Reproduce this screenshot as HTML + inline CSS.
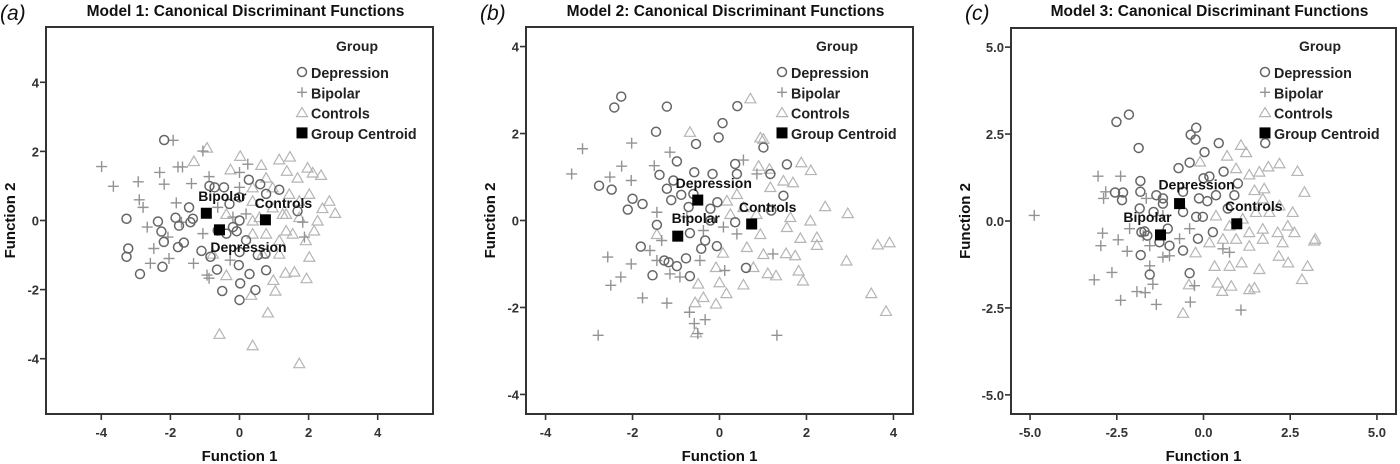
<!DOCTYPE html>
<html><head><meta charset="utf-8"><style>
html,body{margin:0;padding:0;background:#fff;}
svg{display:block;font-family:"Liberation Sans",Arial,sans-serif;}
.frame{position:absolute;border:2px solid #333;box-sizing:border-box;pointer-events:none;}
</style></head><body>
<div style="position:relative;width:1400px;height:464px;">
<svg id="chart" width="1400" height="464" viewBox="0 0 1400 464" xmlns="http://www.w3.org/2000/svg"></svg>
<div class="frame" style="left:45px;top:26px;width:389px;height:389px;"></div>
<div class="frame" style="left:525px;top:26px;width:389px;height:389px;"></div>
<div class="frame" style="left:1010px;top:27px;width:387px;height:388px;"></div>
</div>
<script>
// ---- Panel A data (Model 1) ----
const aDepression=[[-2.18,2.33],[-3.27,0.05],[-3.22,-0.81],[-3.27,-1.05],[-2.88,-1.55],[-2.36,-0.03],[-2.26,-0.32],[-2.19,-0.62],[-2.23,-1.34],[-1.85,0.08],[-1.75,-0.15],[-1.78,-0.77],[-1.61,-0.64],[-1.46,0.38],[-1.42,-0.05],[-1.35,0.05],[-1.10,-0.88],[-0.87,1.0],[-0.72,0.96],[-0.45,0.96],[-0.84,-1.05],[-0.65,-1.42],[-0.5,-2.04],[0,-2.3],[0.02,-1.82],[-0.02,-1.29],[0,-0.91],[0.27,1.18],[0.6,1.05],[1.15,0.89],[0.77,-1.44],[0.46,-2.01],[0.29,-1.55],[0.75,-0.96],[0.53,-1.0],[1.68,0.27],[-0.19,-0.19],[-0.08,-0.31],[0.19,-0.57],[-0.63,-0.29],[-0.38,-0.38],[0,0],[-0.29,0.48],[0,0.67],[0.77,0.77]];
const aBipolar=[[-3.99,1.56],[-3.65,0.99],[-2.93,1.12],[-2.9,0.6],[-2.79,0.38],[-2.31,1.39],[-2.18,1.05],[-1.92,2.32],[-1.78,1.55],[-1.65,1.55],[-1.39,1.07],[-1.06,2.01],[-0.88,1.27],[-1.83,0.51],[-1.68,-0.05],[-2.67,-0.19],[-2.48,-0.81],[-2.58,-1.24],[-2.04,-1.1],[-2.07,-0.48],[-1.33,-1.24],[-0.94,-1.58],[-0.88,-1.67],[-0.27,-1.15],[0,1.39],[0.24,1.63],[-0.63,0.38],[-1.06,-0.38],[-0.19,0.1],[0.19,0.19],[1.83,-0.05],[1.88,-0.48],[0,0.96]];
const aControls=[[-1.32,1.72],[-0.94,2.11],[0.02,1.87],[-0.26,1.48],[0.63,1.61],[1.15,1.77],[1.46,1.85],[1.37,1.44],[0.77,1.24],[1.68,1.24],[1.97,1.53],[2.36,1.32],[2.12,1.39],[2.02,0.77],[2.4,0.36],[2.77,0.22],[2.26,0],[2.16,-0.29],[2.02,-1.05],[1.94,-1.67],[0.98,-1.72],[1.04,-2.03],[0.82,-2.66],[0.38,-3.61],[-0.58,-3.28],[1.73,-4.13],[1.33,-1.51],[1.59,-1.48],[0.34,-2.15],[-0.38,-1.58],[-0.77,-0.96],[0.38,-0.38],[0.77,-0.38],[1.15,-0.57],[1.54,-0.38],[1.73,0.1],[1.35,0.19],[0.96,0.38],[0.58,0.1],[0.38,0.57],[1.44,0.77],[0.96,0.96],[0.38,0.96],[1.35,-0.29],[0.38,0],[-0.38,0.19],[1.73,0.57],[2.6,0.57],[1.15,-0.96],[0.67,-0.96],[1.92,-0.57],[1.25,0.19]];
const aCentroids=[["Bipolar",-0.96,0.21],["Depression",-0.58,-0.27],["Controls",0.75,0.02]];
const aTicks=[-4,-2,0,2,4];
const aTickLabels=["-4","-2","0","2","4"];
// ---- Panel B data (Model 2) ----
const bDepression=[[-2.42,2.6],[-2.26,2.85],[-1.21,2.62],[-1.46,2.04],[-0.54,1.76],[-0.02,1.91],[0.07,2.24],[0.41,2.63],[1.01,1.68],[-0.98,1.36],[-1.38,1.05],[-2.77,0.8],[-2.48,0.71],[-2.0,0.5],[-1.77,0.38],[-2.11,0.25],[-0.58,1.11],[-0.16,1.07],[0.4,1.07],[0.36,1.3],[1.17,1.07],[1.55,1.29],[1.47,0.57],[1.19,0.23],[-1.21,0.73],[-1.11,0.47],[-0.88,0.59],[-0.71,0.31],[-0.21,0.27],[-0.05,0.42],[-1.44,-0.1],[-1.81,-0.6],[-1.27,-0.92],[-1.17,-0.96],[-0.98,-1.05],[-0.77,-0.87],[-1.54,-1.26],[-0.68,-1.28],[-0.42,-0.65],[-0.33,-0.46],[-0.06,-0.59],[0.61,-1.09],[0.36,-0.04],[-0.68,-0.29],[-0.21,0],[-1.06,0.92],[-0.6,0.61]];
const bBipolar=[[-3.15,1.65],[-3.4,1.07],[-2.52,1.0],[-2.25,1.25],[-2.02,1.78],[-2.03,0.92],[-1.5,1.26],[-1.14,1.57],[-2.57,-0.84],[-2.5,-1.49],[-2.27,-1.3],[-2.03,-1.0],[-1.77,-1.78],[-1.21,-1.9],[-0.69,-2.11],[-0.58,-2.37],[-0.33,-2.28],[-0.5,-2.6],[-2.79,-2.64],[1.32,-2.64],[1.23,-0.77],[0.12,-1.15],[0.55,1.39],[-1.44,0.19],[-1.33,-0.46],[-1.44,-0.92],[-1.14,-1.23],[-0.91,-1.3],[-0.45,-0.92],[-0.37,-0.23],[0.09,-0.15],[0.4,-0.31],[0.86,1.07],[-0.75,0.08],[-1.6,-0.69]];
const bControls=[[-0.68,2.04],[0.71,2.81],[0.94,1.91],[1.01,1.88],[0.9,1.26],[1.15,1.19],[1.88,1.34],[2.1,1.16],[1.69,0.88],[1.47,0.92],[2.43,0.33],[2.95,0.17],[2.09,0],[1.86,-0.4],[2.24,-0.38],[2.24,-0.56],[1.53,-0.75],[1.74,-0.8],[3.64,-0.55],[3.91,-0.5],[2.92,-0.92],[1.82,-1.15],[1.92,-1.38],[1.11,-1.21],[1.3,-1.26],[0.55,-1.47],[0.16,-1.67],[0,-1.42],[-0.08,-1.91],[-0.37,-1.76],[-0.49,-1.45],[-0.56,-1.88],[-0.54,-2.57],[-0.08,-1.07],[0.08,-0.74],[0.63,-0.61],[0.94,-0.31],[0.85,0.15],[1.17,0.77],[1.63,0.08],[0.4,0.61],[0.55,0.31],[0.25,0.15],[3.49,-1.67],[3.83,-2.08],[0.17,0.46],[1.01,-0.77],[1.55,-0.15],[-1.44,-0.31],[0.78,-1.07]];
const bCentroids=[["Depression",-0.5,0.47],["Bipolar",-0.96,-0.36],["Controls",0.74,-0.08]];
const bTicks=[-4,-2,0,2,4];
const bTickLabels=["-4","-2","0","2","4"];
// ---- Panel C data (Model 3) ----
const cDepression=[[-2.51,2.85],[-2.15,3.06],[-1.87,2.1],[-0.21,2.68],[-0.37,2.48],[-0.23,2.34],[0.03,1.98],[0.44,2.24],[1.78,2.24],[-0.72,1.52],[-0.4,1.68],[0.58,1.42],[0,1.23],[0.17,1.28],[-1.82,1.15],[-1.82,0.84],[-2.55,0.82],[-2.32,0.82],[-2.35,0.6],[-1.36,0.74],[-1.17,0.5],[-0.13,0.65],[0.11,0.57],[0.36,0.74],[0.89,0.74],[0.99,1.08],[-1.84,0.36],[-1.44,0.26],[-0.59,0.26],[-0.21,0.12],[-0.02,0.12],[-1.7,-0.3],[-1.79,-0.32],[-1.62,-0.42],[-1.03,-0.22],[-1.27,-0.61],[-0.98,-0.71],[-0.59,-0.85],[-0.16,-0.51],[0.27,-0.32],[-1.81,-0.98],[-1.55,-1.54],[-0.4,-1.5],[0.7,0.36],[-1.17,0.65],[-0.59,0.84]];
const cBipolar=[[-4.88,0.16],[-3.04,1.29],[-2.39,1.29],[-2.82,0.84],[-2.88,0.65],[-2.91,-0.35],[-2.96,-0.71],[-2.46,-0.54],[-2.2,-0.87],[-2.64,-1.48],[-3.15,-1.69],[-2.39,-2.28],[-1.92,-2.03],[-1.68,-2.06],[-1.36,-2.4],[-0.38,-2.33],[1.08,-2.56],[-0.26,-1.86],[-1.46,-1.82],[-1.55,-1.29],[-1.17,-1.04],[-0.98,-1.0],[-1.74,-0.42],[-2.13,-0.22],[-1.55,-0.71],[-0.69,-0.51],[0.56,-0.8],[0.75,-0.9],[-0.4,-0.22],[-1.17,0.16],[-1.65,0.65]];
const cControls=[[-0.1,1.71],[0.68,1.88],[1.08,2.19],[1.23,1.98],[0.94,1.52],[1.87,1.57],[2.19,1.66],[2.71,1.44],[2.91,0.84],[1.32,1.34],[1.61,1.42],[1.75,0.94],[1.47,0.89],[2.57,0.26],[2.43,-0.13],[2.62,-0.32],[3.19,-0.56],[3.22,-0.51],[2.14,-0.32],[2.17,-1.0],[2.44,-1.19],[3.0,-1.29],[2.84,-1.67],[1.61,-1.38],[1.32,-1.96],[1.47,-1.91],[0.8,-1.86],[0.54,-2.01],[0.41,-1.77],[0.32,-1.29],[0.75,-1.29],[1.1,-1.19],[-0.59,-2.64],[-0.42,-1.82],[-0.23,-0.9],[0.17,-0.61],[0.56,-0.51],[0.94,-0.51],[1.32,-0.32],[1.71,-0.51],[1.9,0.26],[1.51,0.26],[1.13,0.07],[1.71,-0.22],[1.32,-0.71],[2.28,-0.61],[0.75,-0.13],[1.71,0.65],[2.19,0.45],[0.36,0.16]];
const cCentroids=[["Depression",-0.69,0.5],["Bipolar",-1.24,-0.4],["Controls",0.96,-0.08]];
const cTicks=[-5,-2.5,0,2.5,5];
const cTickLabels=["-5.0","-2.5","0.0","2.5","5.0"];

const NS="http://www.w3.org/2000/svg";
const svg=document.getElementById('chart');
function mk(tag,attrs,parent,text){const e=document.createElementNS(NS,tag);for(const k in attrs)e.setAttribute(k,attrs[k]);if(text!==undefined)e.textContent=text;(parent||svg).appendChild(e);return e;}

const panels=[
 {id:'a',letter:'a',title:'Model 1: Canonical Discriminant Functions',box:[46,27,433,414],range:5.6,dep:aDepression,bip:aBipolar,con:aControls,cen:aCentroids,ticks:aTicks,labels:aTickLabels,ytitleX:10,
  lab:{Bipolar:[16,-17],Controls:[18,-17],Depression:[29,17]}},
 {id:'b',letter:'b',title:'Model 2: Canonical Discriminant Functions',box:[526,27,913,414],range:4.45,dep:bDepression,bip:bBipolar,con:bControls,cen:bCentroids,ticks:bTicks,labels:bTickLabels,ytitleX:490,
  lab:{Depression:[16,-17],Bipolar:[18,-18],Controls:[16,-17]}},
 {id:'c',letter:'c',title:'Model 3: Canonical Discriminant Functions',box:[1011,28,1396,414],range:5.55,dep:cDepression,bip:cBipolar,con:cControls,cen:cCentroids,ticks:cTicks,labels:cTickLabels,ytitleX:965,
  lab:{Depression:[17,-19],Bipolar:[-13,-18],Controls:[17,-18]}}
];

panels.forEach(p=>{
  const [x0,y0,x1,y1]=p.box;
  const g=mk('g',{});
  
  
  const cx=(x0+x1)/2, cy=(y0+y1)/2;
  const sx=v=>cx+v*(x1-x0)/(2*p.range);
  const sy=v=>cy-v*(y1-y0)/(2*p.range);
  const lt=mk('text',{x:x0-46,y:20,'font-size':21,'font-style':'italic',fill:'#111'},g,'('+p.letter+')');
  
  
  const tt=mk('text',{x:cx+6,y:16,'font-size':15.5,'font-weight':'bold','text-anchor':'middle',fill:'#111'},g,p.title);
  
  
  mk('rect',{x:x0-1,y:y0-1,width:x1-x0+2,height:2,fill:'#333'},g);
  mk('rect',{x:x0-1,y:y1-1,width:x1-x0+2,height:2,fill:'#333'},g);
  mk('rect',{x:x0-1,y:y0-1,width:2,height:y1-y0+2,fill:'#333'},g);
  mk('rect',{x:x1-1,y:y0-1,width:2,height:y1-y0+2,fill:'#333'},g);
  p.ticks.forEach((t,i)=>{
    const X=sx(t);
    const tk=mk('rect',{x:X-0.8,y:y1,width:1.6,height:6,fill:'#333'},g);
    
    
    const xl=mk('text',{x:X,y:y1+23,'font-size':13,'font-weight':'bold','text-anchor':'middle',fill:'#333'},g,p.labels[i]);
    
    
    const Y=sy(t);
    const tky=mk('rect',{x:x0-6,y:Y-0.8,width:6,height:1.6,fill:'#333'},g);
    
    
    const yl=mk('text',{x:x0-7,y:Y+5,'font-size':13,'font-weight':'bold','text-anchor':'end',fill:'#333'},g,p.labels[i]);
    
    
  });
  const xt=mk('text',{x:cx,y:461,'font-size':15,'font-weight':'bold','text-anchor':'middle',fill:'#111'},g,'Function 1');
  
  
  const yt=mk('text',{x:p.ytitleX+5,y:cy,'font-size':15,'font-weight':'bold','text-anchor':'middle',fill:'#111',transform:'rotate(-90 '+(p.ytitleX+5)+' '+cy+')'},g,'Function 2');
  
  
  p.con.forEach(d=>{const X=sx(d[0]),Y=sy(d[1]);
    const m=mk('path',{d:`M${X-5.5},${Y+4.5}L${X+5.5},${Y+4.5}L${X},${Y-5}Z`,fill:'none',stroke:'#b5b5b5','stroke-width':1.2},g);
    
    });
  p.bip.forEach(d=>{const X=sx(d[0]),Y=sy(d[1]);
    const m=mk('path',{d:`M${X-5.5},${Y}L${X+5.5},${Y}M${X},${Y-5.5}L${X},${Y+5.5}`,stroke:'#939393','stroke-width':1.4,fill:'none'},g);
    
    });
  p.dep.forEach(d=>{const X=sx(d[0]),Y=sy(d[1]);
    const m=mk('circle',{cx:X,cy:Y,r:4.5,fill:'none',stroke:'#666','stroke-width':1.5},g);
    
    });
  p.cen.forEach(c=>{const X=sx(c[1]),Y=sy(c[2]);
    const m=mk('rect',{x:X-5.5,y:Y-5.5,width:11,height:11,fill:'#000'},g);
    
    
    const o=p.lab[c[0]];
    const l=mk('text',{x:X+o[0],y:Y+o[1]+5,'font-size':14,'font-weight':'bold','text-anchor':'middle',fill:'#111'},g,c[0]);
    
    });
  const lg=mk('g',{},g);
  
  
  const lx=x1-131;
  mk('text',{x:lx+55,y:51,'font-size':14,'font-weight':'bold','text-anchor':'middle',fill:'#222'},lg,'Group');
  const names=['Depression','Bipolar','Controls','Group Centroid'];
  names.forEach((n,i)=>{
    const Y=73+i*20.3;
    if(i===0)mk('circle',{cx:lx,cy:Y-1,r:4.5,fill:'none',stroke:'#666','stroke-width':1.5},lg);
    if(i===1)mk('path',{d:`M${lx-5},${Y-1}L${lx+5},${Y-1}M${lx},${Y-6}L${lx},${Y+4}`,stroke:'#939393','stroke-width':1.4,fill:'none'},lg);
    if(i===2)mk('path',{d:`M${lx-5.5},${Y+3}L${lx+5.5},${Y+3}L${lx},${Y-6}Z`,fill:'none',stroke:'#b5b5b5','stroke-width':1.2},lg);
    if(i===3)mk('rect',{x:lx-5.5,y:Y-6.5,width:11,height:11,fill:'#000'},lg);
    const t=mk('text',{x:lx+9,y:Y+5,'font-size':14.3,'font-weight':'bold',fill:'#222'},lg,n);
    
    
  });
});
</script>
</body></html>
